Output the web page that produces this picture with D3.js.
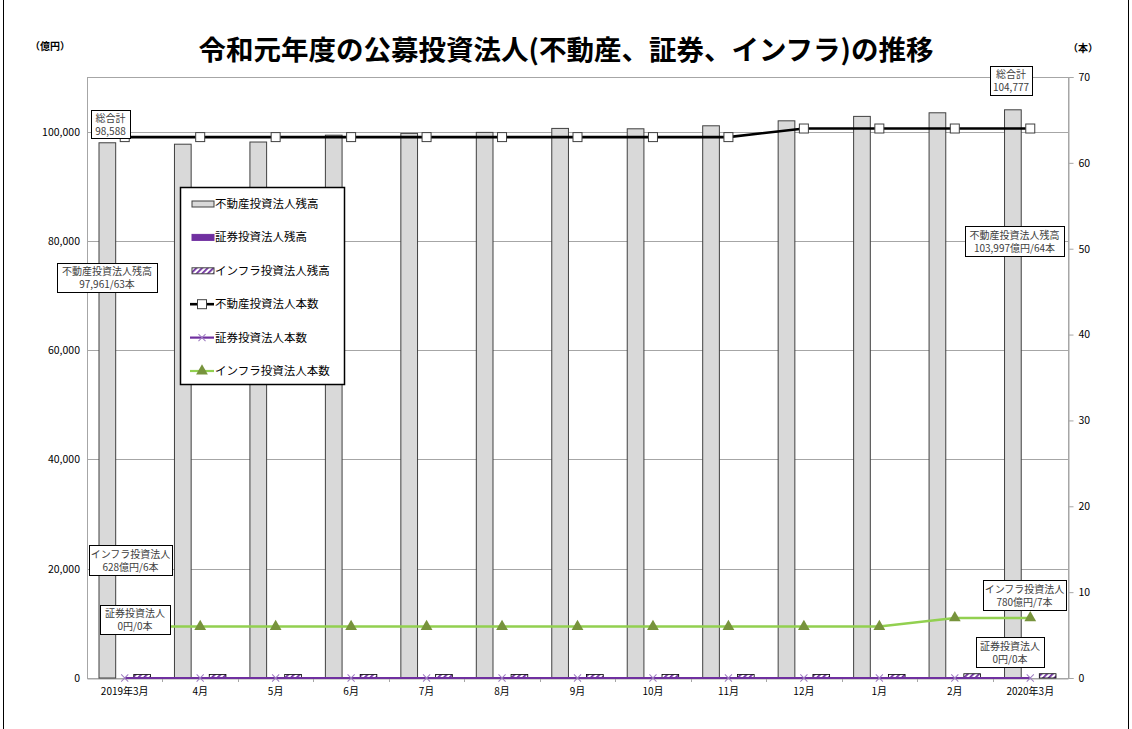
<!DOCTYPE html>
<html lang="ja">
<head>
<meta charset="utf-8">
<script src="https://cdn.jsdelivr.net/npm/d3@7/dist/d3.min.js"></script>
<style>
  html, body { margin: 0; padding: 0; background: #fff; }
  svg { display: block; font-family: "Noto Sans CJK JP", "Noto Sans", sans-serif; }
</style>
</head>
<body>
<svg id="chart" width="1132" height="729"></svg>
<script>
// Months of fiscal Reiwa 1 (March 2019 – March 2020)
const months = ["2019年3月", "4月", "5月", "6月", "7月", "8月", "9月", "10月", "11月", "12月", "1月", "2月", "2020年3月"];

// Outstanding balance (億円)
const reitBalance = [97961, 97700, 98100, 99350, 99680, 99860, 100590, 100520, 101070, 101980, 102790, 103450, 103997];
const securitiesBalance = [0, 0, 0, 0, 0, 0, 0, 0, 0, 0, 0, 0, 0];
const infraBalance = [628, 628, 628, 628, 628, 628, 628, 628, 628, 628, 628, 775, 780];

// Number of listed corporations (本)
const reitCount = [63, 63, 63, 63, 63, 63, 63, 63, 63, 64, 64, 64, 64];
const securitiesCount = [0, 0, 0, 0, 0, 0, 0, 0, 0, 0, 0, 0, 0];
const infraCount = [6, 6, 6, 6, 6, 6, 6, 6, 6, 6, 6, 7, 7];

// Axis ticks
const leftTicks = [0, 20000, 40000, 60000, 80000, 100000];
const rightTicks = [0, 10, 20, 30, 40, 50, 60, 70];

const seriesNames = ["不動産投資法人残高", "証券投資法人残高", "インフラ投資法人残高",
                     "不動産投資法人本数", "証券投資法人本数", "インフラ投資法人本数"];

const svg = d3.select("#chart");
const plot = { left: 87, right: 1068, top: 77, bottom: 678 };

const x = d3.scaleBand().domain(months).range([plot.left, plot.right]).padding(0);
const barKeys = ["reit", "sec", "infra"];
const xs = d3.scaleBand().domain(barKeys).range([12, x.bandwidth() - 12]).paddingInner(0.04);
const yL = d3.scaleLinear().domain([0, 110000]).range([plot.bottom, plot.top]);
const yR = d3.scaleLinear().domain([0, 70]).range([plot.bottom, plot.top]);
const cx = m => x(m) + x.bandwidth() / 2;

// hatch pattern for infrastructure fund bars
const defs = svg.append("defs");
const pat = defs.append("pattern").attr("id", "hatch").attr("patternUnits", "userSpaceOnUse")
  .attr("width", 4).attr("height", 4).attr("patternTransform", "rotate(45)");
pat.append("rect").attr("width", 4).attr("height", 4).attr("fill", "#fff");
pat.append("rect").attr("width", 1.8).attr("height", 4).attr("fill", "#7030a0");

// outer frame
svg.append("line").attr("x1", 3.5).attr("x2", 3.5).attr("y1", 0).attr("y2", 729).attr("stroke", "#000");
svg.append("line").attr("x1", 1128.5).attr("x2", 1128.5).attr("y1", 0).attr("y2", 729).attr("stroke", "#000");

// title and unit captions
svg.append("text").attr("x", 566).attr("y", 60).attr("text-anchor", "middle")
  .attr("font-size", 27.5).attr("font-weight", "bold").attr("fill", "#000")
  .text("令和元年度の公募投資法人(不動産、証券、インフラ)の推移");
svg.append("text").attr("x", 50).attr("y", 50).attr("text-anchor", "middle")
  .attr("font-size", 10).attr("font-weight", "bold").text("（億円）");
svg.append("text").attr("x", 1083).attr("y", 52).attr("text-anchor", "middle")
  .attr("font-size", 10).attr("font-weight", "bold").text("（本）");

// plot area & gridlines
svg.append("rect").attr("x", plot.left + 0.5).attr("y", plot.top + 0.5)
  .attr("width", plot.right - plot.left).attr("height", plot.bottom - plot.top)
  .attr("fill", "none").attr("stroke", "#a6a6a6");
svg.append("g").selectAll("line").data(leftTicks.filter(d => d > 0)).join("line")
  .attr("x1", plot.left).attr("x2", plot.right)
  .attr("y1", d => Math.round(yL(d)) + 0.5).attr("y2", d => Math.round(yL(d)) + 0.5)
  .attr("stroke", "#a6a6a6");

// left axis
const gL = svg.append("g").attr("transform", `translate(${plot.left},0)`)
  .call(d3.axisLeft(yL).tickValues(leftTicks).tickSize(0).tickPadding(7).tickFormat(d3.format(",")));
gL.select(".domain").remove();
gL.selectAll("text").attr("font-size", 10.5).attr("fill", "#000").attr("font-family", "Noto Sans CJK JP");

// right axis
const gR = svg.append("g").attr("transform", `translate(${plot.right + 0.5},0)`)
  .call(d3.axisRight(yR).tickValues(rightTicks).tickSize(5).tickPadding(5));
gR.select(".domain").attr("stroke", "#a6a6a6");
gR.selectAll(".tick line").attr("stroke", "#a6a6a6");
gR.selectAll("text").attr("font-size", 10.5).attr("fill", "#000").attr("font-family", "Noto Sans CJK JP");

// bottom axis
const gB = svg.append("g").attr("transform", `translate(0,${plot.bottom + 0.5})`)
  .call(d3.axisBottom(x).tickSize(0).tickPadding(9));
gB.select(".domain").attr("stroke", "#a6a6a6");
gB.selectAll("text").attr("font-size", 10).attr("fill", "#000").attr("font-family", "Noto Sans CJK JP");
svg.append("g").selectAll("line").data(months.slice(1)).join("line")
  .attr("x1", d => Math.round(x(d)) + 0.5).attr("x2", d => Math.round(x(d)) + 0.5)
  .attr("y1", plot.bottom).attr("y2", plot.bottom + 4).attr("stroke", "#a6a6a6");

// bars
const bars = svg.append("g");
bars.selectAll(".reit").data(months).join("rect")
  .attr("x", (m) => x(m) + xs("reit")).attr("width", xs.bandwidth())
  .attr("y", (m, i) => yL(reitBalance[i])).attr("height", (m, i) => yL(0) - yL(reitBalance[i]))
  .attr("fill", "#d9d9d9").attr("stroke", "#404040").attr("stroke-width", 1);
bars.selectAll(".sec").data(months).join("rect")
  .attr("x", (m) => x(m) + xs("sec")).attr("width", xs.bandwidth())
  .attr("y", (m, i) => yL(securitiesBalance[i])).attr("height", (m, i) => yL(0) - yL(securitiesBalance[i]))
  .attr("fill", "#7030a0");
bars.selectAll(".infra").data(months).join("rect")
  .attr("x", (m) => x(m) + xs("infra")).attr("width", xs.bandwidth())
  .attr("y", (m, i) => yL(infraBalance[i])).attr("height", (m, i) => yL(0) - yL(infraBalance[i]))
  .attr("fill", "url(#hatch)").attr("stroke", "#000").attr("stroke-width", 0.8);

// count lines
const line = arr => d3.line().x((d, i) => cx(months[i])).y(d => yR(d))(arr);

svg.append("path").attr("d", line(infraCount)).attr("fill", "none")
  .attr("stroke", "#92d050").attr("stroke-width", 2.5);
svg.append("g").selectAll("path").data(infraCount).join("path")
  .attr("transform", (d, i) => `translate(${cx(months[i])},${yR(d)})`)
  .attr("d", d3.symbol(d3.symbolTriangle, 60)())
  .attr("fill", "#77933c");

svg.append("path").attr("d", line(securitiesCount)).attr("fill", "none")
  .attr("stroke", "#7030a0").attr("stroke-width", 2.2);
svg.append("g").selectAll("path").data(securitiesCount).join("path")
  .attr("transform", (d, i) => `translate(${cx(months[i])},${yR(d)}) rotate(45)`)
  .attr("fill", "none").attr("stroke", "#9e7cc1").attr("stroke-width", 1)
  .attr("d", "M-5,0H5M0,-5V5");

svg.append("path").attr("d", line(reitCount)).attr("fill", "none")
  .attr("stroke", "#000").attr("stroke-width", 2.6);
svg.append("g").selectAll("rect").data(reitCount).join("rect")
  .attr("x", (d, i) => cx(months[i]) - 4.5).attr("y", d => yR(d) - 4.5)
  .attr("width", 9).attr("height", 9)
  .attr("fill", "#fff").attr("stroke", "#404040").attr("stroke-width", 1);

// data callouts
function callout(x0, y0, w, h, lines) {
  const g = svg.append("g");
  g.append("rect").attr("x", x0 + 0.5).attr("y", y0 + 0.5).attr("width", w).attr("height", h)
    .attr("fill", "#fff").attr("stroke", "#000");
  lines.forEach((t, i) => {
    g.append("text").attr("x", x0 + w / 2).attr("y", y0 + h / 2 + (i - (lines.length - 1) / 2) * 13 + 4)
      .attr("text-anchor", "middle").attr("font-size", 10).attr("fill", "#404040").text(t);
  });
}
const fmt = d3.format(",");
const last = months.length - 1;
callout(91, 110, 39, 28, ["総合計", fmt(reitBalance[0] + infraBalance[0] - 1)]);
callout(990, 66, 42, 29, ["総合計", fmt(reitBalance[last] + infraBalance[last])]);
callout(57, 263, 100, 29, ["不動産投資法人残高", `${fmt(reitBalance[0])}/${reitCount[0]}本`]);
callout(965, 226, 99, 30, ["不動産投資法人残高", `${fmt(reitBalance[last])}億円/${reitCount[last]}本`]);
callout(89, 545, 83, 30, ["インフラ投資法人", `${infraBalance[0]}億円/${infraCount[0]}本`]);
callout(100, 605, 70, 29, ["証券投資法人", `${securitiesBalance[0]}円/${securitiesCount[0]}本`]);
callout(983, 580, 83, 30, ["インフラ投資法人", `${infraBalance[last]}億円/${infraCount[last]}本`]);
callout(976, 637, 68, 30, ["証券投資法人", `${securitiesBalance[last]}円/${securitiesCount[last]}本`]);

// legend
const lg = svg.append("g").attr("transform", "translate(180,187)");
lg.append("rect").attr("x", 0.5).attr("y", 0.5).attr("width", 164).attr("height", 197)
  .attr("fill", "#fff").attr("stroke", "#000").attr("stroke-width", 1.5);
const rowY = i => 17 + i * 33.4;
seriesNames.forEach((name, i) => {
  const yy = rowY(i);
  const row = lg.append("g");
  if (i < 3) {
    const fills = ["#d9d9d9", "#7030a0", "url(#hatch)"];
    row.append("rect").attr("x", 12).attr("y", yy - 3).attr("width", 22).attr("height", 6)
      .attr("fill", fills[i]).attr("stroke", i === 1 ? "#7030a0" : "#404040");
  } else {
    const colors = ["#000", "#7030a0", "#92d050"];
    row.append("line").attr("x1", 10).attr("x2", 34).attr("y1", yy).attr("y2", yy)
      .attr("stroke", colors[i - 3]).attr("stroke-width", i === 3 ? 2.6 : 2.2);
    if (i === 3) {
      row.append("rect").attr("x", 17.5).attr("y", yy - 4.5).attr("width", 9).attr("height", 9)
        .attr("fill", "#fff").attr("stroke", "#404040");
    } else if (i === 4) {
      row.append("path").attr("transform", `translate(22,${yy}) rotate(45)`)
        .attr("d", "M-5,0H5M0,-5V5").attr("stroke", "#9e7cc1").attr("fill", "none");
    } else {
      row.append("path").attr("transform", `translate(22,${yy})`)
        .attr("d", d3.symbol(d3.symbolTriangle, 60)()).attr("fill", "#77933c");
    }
  }
  row.append("text").attr("x", 35).attr("y", yy + 4).attr("font-size", 11.5).attr("fill", "#000").text(name);
});
</script>
</body>
</html>
